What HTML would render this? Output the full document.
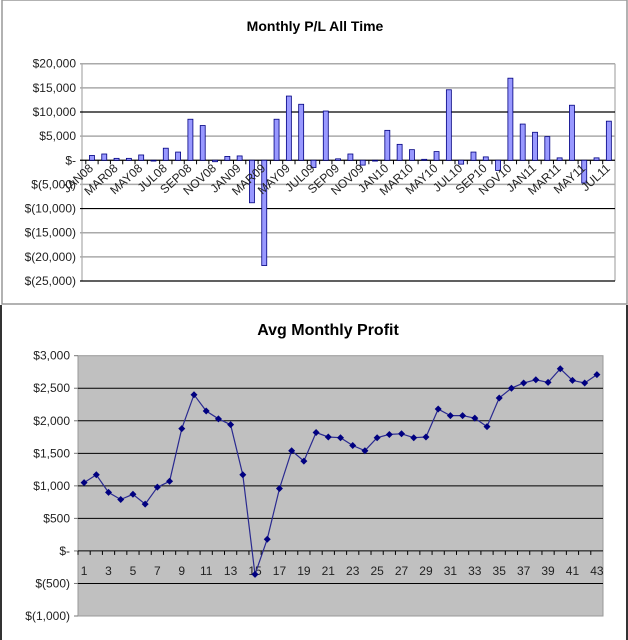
<!DOCTYPE html>
<html><head><meta charset="utf-8"><style>
html,body{margin:0;padding:0;background:#fff;}
svg{display:block;font-family:"Liberation Sans",Arial,sans-serif;}
</style></head><body>
<svg id="c" width="628" height="640" viewBox="0 0 628 640">
<rect x="2" y="0" width="625" height="304" fill="#fff" stroke="#999" stroke-width="1.5"/>
<line x1="1" y1="305" x2="1" y2="640" stroke="#333" stroke-width="2"/>
<line x1="627" y1="305" x2="627" y2="640" stroke="#333" stroke-width="2"/>
<text x="315" y="31" text-anchor="middle" font-size="14" font-weight="bold">Monthly P/L All Time</text>
<text x="328" y="335" text-anchor="middle" font-size="16" font-weight="bold">Avg Monthly Profit</text>
<g id="topg"></g><g id="botg"></g>
</svg>
<script>
const months = ["JAN08","FEB08","MAR08","APR08","MAY08","JUN08","JUL08","AUG08","SEP08","OCT08","NOV08","DEC08","JAN09","FEB09","MAR09","APR09","MAY09","JUN09","JUL09","AUG09","SEP09","OCT09","NOV09","DEC09","JAN10","FEB10","MAR10","APR10","MAY10","JUN10","JUL10","AUG10","SEP10","OCT10","NOV10","DEC10","JAN11","FEB11","MAR11","APR11","MAY11","JUN11","JUL11"];
const monthlyPL = [1000,1300,400,400,1100,0,2500,1700,8500,7200,-300,800,900,-8800,-21800,8500,13300,11600,-1500,10200,300,1300,-1000,0,6200,3300,2200,200,1800,14600,-800,1700,700,-2100,17000,7500,5800,4900,500,11400,-4700,500,8100];
const topTicks = [20000,15000,10000,5000,0,-5000,-10000,-15000,-20000,-25000];
const topTickLabels = ["$20,000","$15,000","$10,000","$5,000","$-","$(5,000)","$(10,000)","$(15,000)","$(20,000)","$(25,000)"];
const avgIdx = [1,2,3,4,5,6,7,8,9,10,11,12,13,14,15,16,17,18,19,20,21,22,23,24,25,26,27,28,29,30,31,32,33,34,35,36,37,38,39,40,41,42,43];
const avgProfit = [1050,1170,900,790,870,720,980,1070,1880,2400,2150,2030,1940,1170,-360,180,960,1540,1380,1820,1750,1740,1620,1540,1740,1790,1800,1740,1750,2180,2080,2080,2040,1910,2350,2500,2580,2630,2590,2800,2620,2580,2710];
const botTicks = [3000,2500,2000,1500,1000,500,0,-500,-1000];
const botTickLabels = ["$3,000","$2,500","$2,000","$1,500","$1,000","$500","$-","$(500)","$(1,000)"];

const NS="http://www.w3.org/2000/svg";
function mk(tag,attrs,parent,txt){const e=document.createElementNS(NS,tag);for(const k in attrs)e.setAttribute(k,attrs[k]);if(txt!==undefined)e.textContent=txt;parent.appendChild(e);return e;}

// TOP chart
const topG=document.getElementById('topg');
const tL=85.8,tR=615,tT=63.7,tB=281,tMax=20000,tMin=-25000;
const ty=v=>tT+(tMax-v)/(tMax-tMin)*(tB-tT);
const slot=(tR-tL)/months.length;
const tx=i=>tL+slot*(i+0.5);
mk('line',{x1:82,y1:tT,x2:tR,y2:tT,stroke:'#999'},topG);
mk('line',{x1:tR,y1:tT,x2:tR,y2:tB,stroke:'#999'},topG);
mk('line',{x1:82,y1:tT,x2:82,y2:tB,stroke:'#999'},topG);
topTicks.forEach((v,i)=>{
  const dark=(v===10000||v===0||v===-10000||v===-25000);
  const l=mk('line',{x1:80,y1:ty(v),x2:tR,y2:ty(v),stroke:dark?'#000':'#aaa','stroke-width':dark?1.2:1.5},topG);
  
  
  const t=mk('text',{x:76,y:ty(v)+4,'text-anchor':'end','font-size':12,fill:'#222'},topG,topTickLabels[i]);
  
  
});
monthlyPL.forEach((v,i)=>{
  const y0=ty(0),y1=ty(v);
  const b=mk('rect',{x:tx(i)-2.5,y:Math.min(y0,y1),width:5,height:Math.max(Math.abs(y1-y0),0.8),fill:'#9999ff',stroke:'#000080','stroke-width':0.8},topG);
  
  
});
months.forEach((m,i)=>{
  mk('line',{x1:tL+slot*i,y1:ty(0),x2:tL+slot*i,y2:ty(0)+4,stroke:'#000'},topG);
  if(i%2===0){
    const ax=tx(i)+2, ay=ty(0)+9;
    const t=mk('text',{x:ax,y:ay,'text-anchor':'end','font-size':12,fill:'#222',transform:'rotate(-42 '+ax+' '+ay+')'},topG,m);
    
    
  }
});

// BOTTOM chart
const botG=document.getElementById('botg');
const bL=78,bR=603,bT=355.7,bB=616,bMax=3000,bMin=-1000;
const by=v=>bT+(bMax-v)/(bMax-bMin)*(bB-bT);
const bs=(bR-bL)/avgIdx.length;
const bx=i=>bL+bs*(i+0.5);
const pa=mk('rect',{x:bL,y:bT,width:bR-bL,height:bB-bT,fill:'#c0c0c0',stroke:'#999'},botG);


botTicks.forEach((v,i)=>{
  if(v!==3000&&v!==-1000){const l=mk('line',{x1:bL,y1:by(v),x2:bR,y2:by(v),stroke:'#000','stroke-width':1},botG);
  
  }
  mk('line',{x1:bL-4,y1:by(v),x2:bL,y2:by(v),stroke:'#777'},botG);
  const t=mk('text',{x:70,y:by(v)+4,'text-anchor':'end','font-size':12,fill:'#222'},botG,botTickLabels[i]);
  
  
});
avgIdx.forEach((n,i)=>{
  mk('line',{x1:bL+bs*i,y1:by(0),x2:bL+bs*i,y2:by(0)+4,stroke:'#000'},botG);
  if(i%2===0){
    const t=mk('text',{x:bx(i),y:by(0)+24,'text-anchor':'middle','font-size':12,fill:'#222'},botG,String(n));
    
    
  }
});
const pts=avgProfit.map((v,i)=>bx(i).toFixed(1)+','+by(v).toFixed(1)).join(' ');
const pl=mk('polyline',{points:pts,fill:'none',stroke:'#2a2a90','stroke-width':1.2},botG);


avgProfit.forEach((v,i)=>{
  const x=bx(i),y=by(v);
  const d=mk('polygon',{points:`${x},${y-3.5} ${x+3.5},${y} ${x},${y+3.5} ${x-3.5},${y}`,fill:'#000080'},botG);
  
  
});
</script>
</body></html>
